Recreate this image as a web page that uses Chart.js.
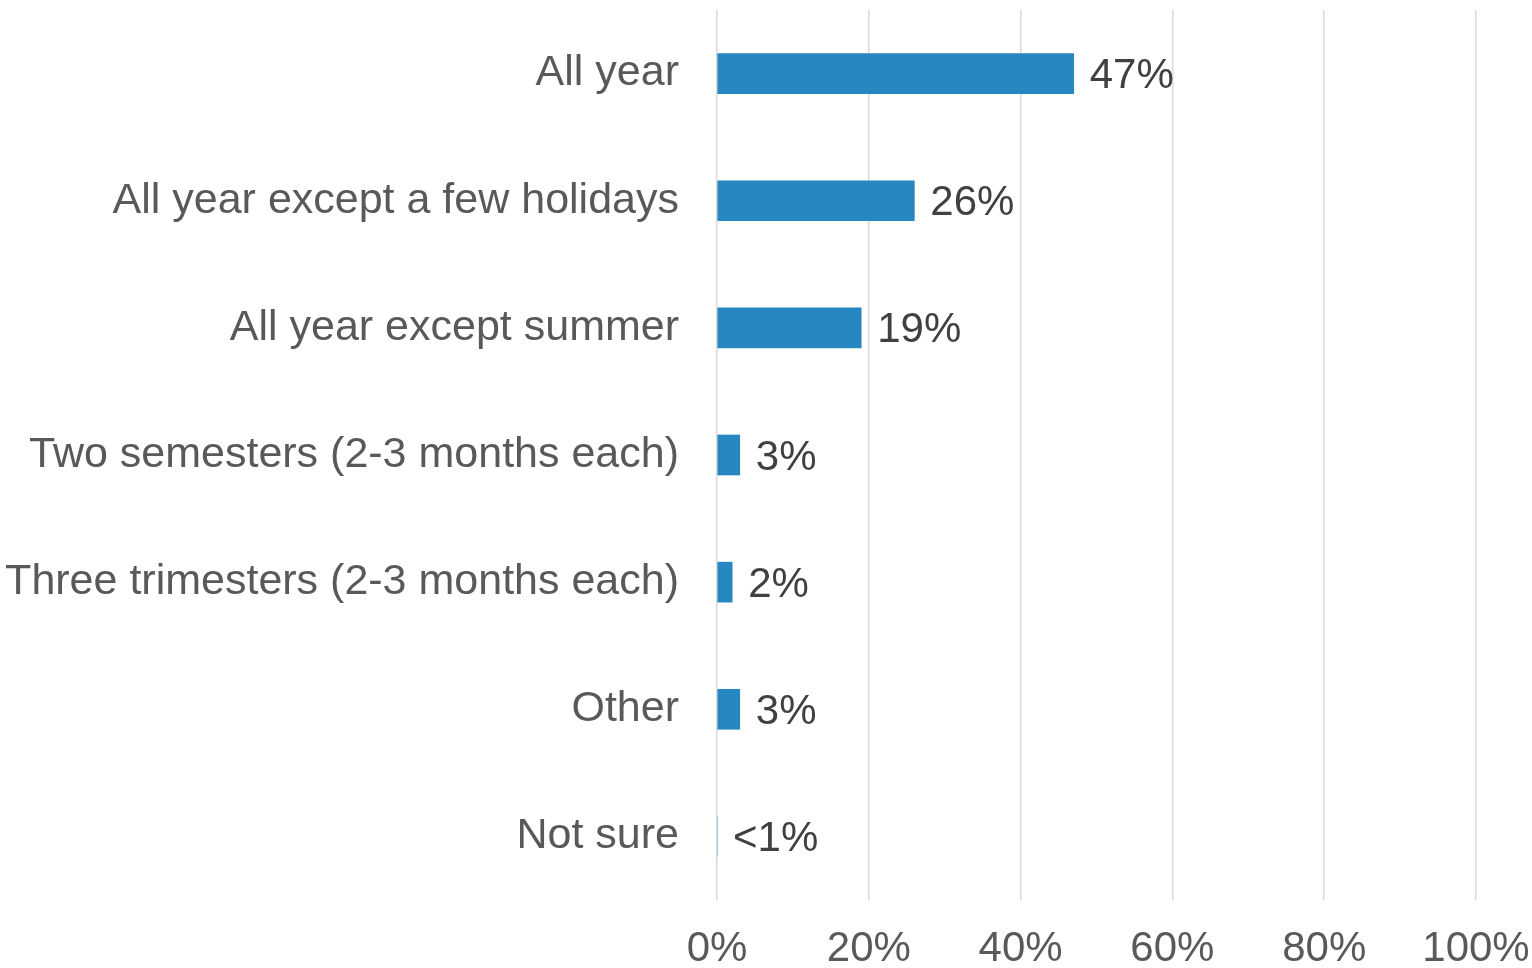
<!DOCTYPE html>
<html>
<head>
<meta charset="utf-8">
<script src="https://cdn.jsdelivr.net/npm/chart.js@4/dist/chart.umd.min.js"></script>
<style>
  html, body { margin: 0; padding: 0; background: #fff; }
  #wrap { width: 1532px; height: 968px; }
</style>
</head>
<body>
<div id="wrap"><canvas id="chart"></canvas></div>
<script>
var categories = [
    'All year',
    'All year except a few holidays',
    'All year except summer',
    'Two semesters (2-3 months each)',
    'Three trimesters (2-3 months each)',
    'Other',
    'Not sure'
];
var shares = [47, 26, 19, 3, 2, 3, 0];
var valueLabels = ['47%', '26%', '19%', '3%', '2%', '3%', '<1%'];
var xTicks = [0, 20, 40, 60, 80, 100];

var fontFamily = '"Liberation Sans", Arial, sans-serif';

// draws the value text to the right of each bar
var barLabels = {
    id: 'barLabels',
    afterDatasetsDraw: function(chart) {
        var ctx = chart.ctx;
        var meta = chart.getDatasetMeta(0);
        ctx.save();
        ctx.font = '42px ' + fontFamily;
        ctx.fillStyle = '#404040';
        ctx.textAlign = 'left';
        ctx.textBaseline = 'middle';
        meta.data.forEach(function(bar, i) {
            ctx.fillText(valueLabels[i], bar.x + 16, bar.y + 3);
        });
        ctx.restore();
    }
};

function createChart(elementId) {
    var ctx = document.getElementById(elementId).getContext('2d');
    return new Chart(ctx, {
        type: 'bar',
        data: {
            labels: categories,
            datasets: [{
                data: shares,
                backgroundColor: '#2787c0',
                barThickness: 40
            }]
        },
        options: {
            indexAxis: 'y',
            responsive: true,
            maintainAspectRatio: false,
            animation: false,
            layout: { padding: { top: 10, left: 0, right: 0, bottom: 0 } },
            plugins: {
                legend: { display: false },
                tooltip: { enabled: false }
            },
            scales: {
                x: {
                    min: 0,
                    max: 100,
                    afterBuildTicks: function(scale) {
                        scale.ticks = xTicks.map(function(v) { return { value: v }; });
                    },
                    afterFit: function(scale) {
                        scale.height = 68;
                        scale.paddingLeft = 0;
                        scale.paddingRight = 56;
                    },
                    grid: { color: '#d9d9d9', lineWidth: 1.5, drawTicks: false },
                    border: { display: false },
                    ticks: {
                        padding: 24,
                        minRotation: 0,
                        maxRotation: 0,
                        color: '#595959',
                        font: { family: fontFamily, size: 42 },
                        callback: function(v) { return v + '%'; }
                    }
                },
                y: {
                    afterFit: function(scale) {
                        scale.width = 717;
                        scale.paddingTop = 0;
                        scale.paddingBottom = 0;
                    },
                    grid: { display: false, drawTicks: false },
                    border: { display: false },
                    ticks: {
                        padding: 38,
                        color: '#595959',
                        font: { family: fontFamily, size: 43 }
                    }
                }
            }
        },
        plugins: [barLabels]
    });
}

createChart('chart');
</script>
</body>
</html>
